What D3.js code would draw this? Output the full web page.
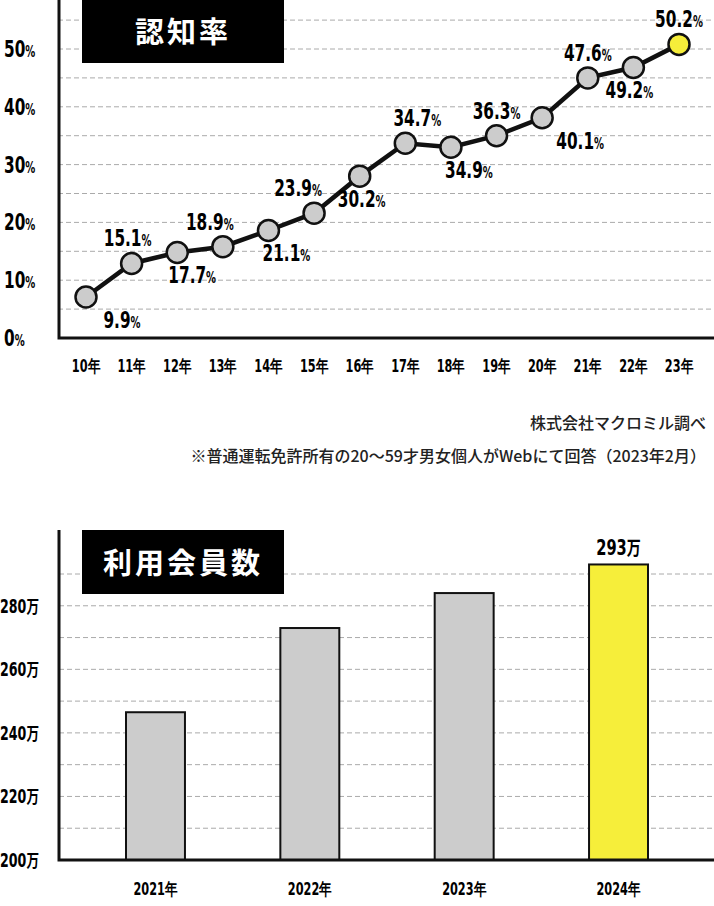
<!DOCTYPE html>
<html><head><meta charset="utf-8">
<script src="https://cdn.jsdelivr.net/npm/d3@7"></script>
<style>
body{margin:0;background:#fff;}
.num{font-family:"Liberation Sans Narrow","DejaVu Sans Condensed","DejaVu Sans",sans-serif;font-weight:bold;}
.jp{font-family:"Noto Sans CJK JP",sans-serif;}
</style></head>
<body><svg id="chart" width="714" height="906"></svg>
<script>
// 認知率 (plotted values read from point positions; labels as printed)
var years = ["10年","11年","12年","13年","14年","15年","16年","17年","18年","19年","20年","21年","22年","23年"];
var rateValues = [7.1, 12.9, 14.8, 15.8, 18.6, 21.6, 28.0, 33.7, 33.0, 35.0, 38.1, 45.0, 46.8, 50.8];
var rateLabels = ["9.9","15.1","17.7","18.9","21.1","23.9","30.2","34.7","34.9","36.3","40.1","47.6","49.2","50.2"];
var labelAbove = [false,true,false,true,false,true,false,true,false,true,false,true,false,true];
var labelDx = [36,-4,15,-13,18,-16,2,12,18,0,38,0,-4,0];
var rateTicks = [0,10,20,30,40,50];

// 利用会員数
var memberYears = ["2021年","2022年","2023年","2024年"];
var memberValues = [246.5, 273, 284, 293];
var memberTicks = [200,220,240,260,280];

const svg = d3.select("#chart");
const SX = 0.74; // condensed look for numbers

// condensed text placed at (x, y)
function condText(g, x, y, cls, size, anchor) {
	return g.append("text").attr("class", cls).attr("font-size", size)
		.attr("text-anchor", anchor || "start")
		.attr("transform", `translate(${x},${y}) scale(${SX},1)`);
}

// ---------- line chart ----------
const x1 = d3.scalePoint().domain(years).range([86, 679]);
const y1 = d3.scaleLinear().domain([0, 50]).range([338, 49]);

svg.append("g").selectAll("line").data(d3.range(5, 60, 5))
	.enter().append("line")
	.attr("x1", 58).attr("x2", 714)
	.attr("y1", d => y1(d)).attr("y2", d => y1(d))
	.attr("stroke", "#aaa").attr("stroke-dasharray", "5,3");

svg.append("path").attr("d", `M59,0V${y1(0)}H714`).attr("fill", "none").attr("stroke", "#111").attr("stroke-width", 3);

svg.append("rect").attr("x", 82).attr("y", 0).attr("width", 202).attr("height", 63).attr("fill", "#000");
svg.append("text").attr("class", "jp").attr("x", 183).attr("y", 43).attr("text-anchor", "middle")
	.attr("fill", "#fff").attr("font-size", 29).attr("font-weight", "bold").attr("letter-spacing", 3).text("認知率");

rateTicks.forEach(d => {
	const t = condText(svg, 4, y1(d) + 8, "num", 23);
	t.append("tspan").text(d);
	t.append("tspan").attr("font-size", 15).text("%");
});

years.forEach(d => {
	condText(svg, x1(d), 372, "num", 17, "middle").text(d);
});

const line = d3.line().x((d, i) => x1(years[i])).y(d => y1(d));
svg.append("path").datum(rateValues).attr("d", line).attr("fill", "none").attr("stroke", "#111").attr("stroke-width", 4.5);

svg.append("g").selectAll("circle").data(rateValues).enter().append("circle")
	.attr("cx", (d, i) => x1(years[i])).attr("cy", d => y1(d)).attr("r", 10.5)
	.attr("fill", (d, i) => i === rateValues.length - 1 ? "#f6ee3a" : "#ccc")
	.attr("stroke", "#111").attr("stroke-width", 2.5);

rateLabels.forEach((d, i) => {
	const t = condText(svg, x1(years[i]) + labelDx[i],
		y1(rateValues[i]) + (labelAbove[i] ? -17 : 31), "num", 23, "middle");
	t.append("tspan").text(d);
	t.append("tspan").attr("font-size", 15).text("%");
});

svg.append("text").attr("class", "jp").attr("x", 706).attr("y", 429).attr("text-anchor", "end")
	.attr("font-size", 16).attr("font-weight", 500).attr("fill", "#222").text("株式会社マクロミル調べ");
svg.append("text").attr("class", "jp").attr("x", 706).attr("y", 462).attr("text-anchor", "end")
	.attr("font-size", 16).attr("font-weight", 500).attr("fill", "#222").text("※普通運転免許所有の20～59才男女個人がWebにて回答（2023年2月）");

// ---------- bar chart ----------
const x2 = d3.scaleBand().domain(memberYears).range([126, 648]).paddingInner(0.618).paddingOuter(0);
const y2 = d3.scaleLinear().domain([200, 290]).range([860, 574]);

svg.append("g").selectAll("line").data(d3.range(210, 300, 10))
	.enter().append("line")
	.attr("x1", 59).attr("x2", 714)
	.attr("y1", d => y2(d)).attr("y2", d => y2(d))
	.attr("stroke", "#aaa").attr("stroke-dasharray", "5,3");

svg.append("rect").attr("x", 82).attr("y", 530).attr("width", 202).attr("height", 64).attr("fill", "#000");
svg.append("text").attr("class", "jp").attr("x", 183).attr("y", 574).attr("text-anchor", "middle")
	.attr("fill", "#fff").attr("font-size", 29).attr("font-weight", "bold").attr("letter-spacing", 3).text("利用会員数");

svg.append("g").selectAll("rect").data(memberValues).enter().append("rect")
	.attr("x", (d, i) => x2(memberYears[i])).attr("width", x2.bandwidth())
	.attr("y", d => y2(d)).attr("height", d => y2(200) - y2(d))
	.attr("fill", (d, i) => i === memberValues.length - 1 ? "#f6ee3a" : "#ccc")
	.attr("stroke", "#111").attr("stroke-width", 2);

svg.append("path").attr("d", `M59,530V${y2(200)}H714`).attr("fill", "none").attr("stroke", "#111").attr("stroke-width", 3);

memberTicks.forEach(d => {
	const t = condText(svg, 0, y2(d) + 7, "num", 19);
	t.append("tspan").text(d);
	t.append("tspan").attr("class", "jp").attr("font-size", 17).text("万");
});

memberYears.forEach(d => {
	condText(svg, x2(d) + x2.bandwidth() / 2, 895, "num", 17, "middle").text(d);
});

const last = memberValues.length - 1;
const topLbl = condText(svg, x2(memberYears[last]) + x2.bandwidth() / 2, y2(memberValues[last]) - 9, "num", 22, "middle");
topLbl.append("tspan").text(Math.round(memberValues[last]));
topLbl.append("tspan").attr("class", "jp").attr("font-size", 19).text("万");
</script></body></html>
